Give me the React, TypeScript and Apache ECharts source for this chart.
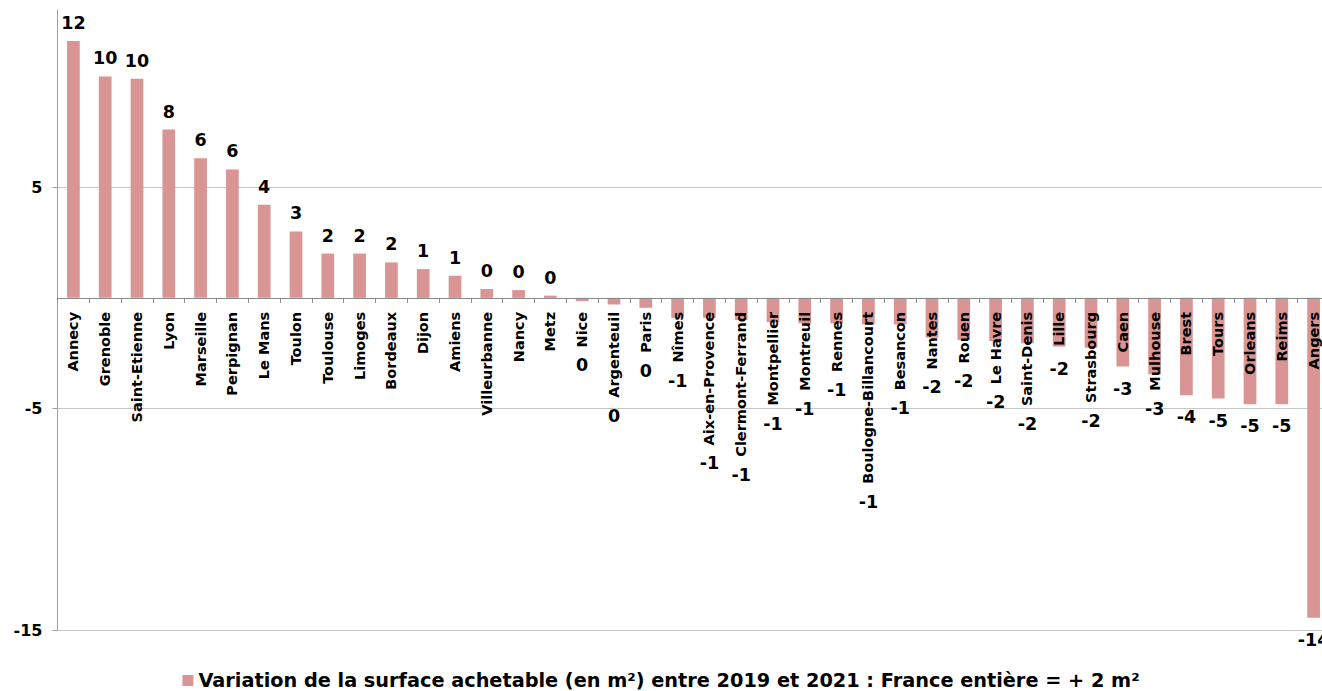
import { useEffect, useRef } from "react";
import * as echarts from "echarts";

// Cities, ordered from the largest gain to the largest loss
const cities = [
  "Annecy", "Grenoble", "Saint-Etienne", "Lyon", "Marseille", "Perpignan", "Le Mans", "Toulon",
  "Toulouse", "Limoges", "Bordeaux", "Dijon", "Amiens", "Villeurbanne", "Nancy", "Metz",
  "Nice", "Argenteuil", "Paris", "Nîmes", "Aix-en-Provence", "Clermont-Ferrand", "Montpellier",
  "Montreuil", "Rennes", "Boulogne-Billancourt", "Besancon", "Nantes", "Rouen", "Le Havre",
  "Saint-Denis", "Lille", "Strasbourg", "Caen", "Mulhouse", "Brest", "Tours", "Orleans",
  "Reims", "Angers",
];

// Change in purchasable floor area, m² (2019 → 2021)
const variations = [
  11.6, 10.0, 9.9, 7.6, 6.3, 5.8, 4.2, 3.0,
  2.0, 2.0, 1.6, 1.3, 1.0, 0.4, 0.35, 0.1,
  -0.15, -0.3, -0.45, -0.9, -0.9, -1.0, -1.1,
  -1.15, -1.15, -1.2, -1.2, -1.8, -1.9, -1.95,
  -2.05, -2.2, -2.25, -3.1, -3.45, -4.4, -4.55, -4.8,
  -4.8, -14.45,
];

const seriesName =
  "Variation de la surface achetable (en m²) entre 2019 et 2021 : France entière = + 2 m²";

const Y_MIN = -15;
const Y_MAX = 13;
const Y_STEP = 10;

const FONT = '"DejaVu Sans", Verdana, sans-serif';
const BAR_COLOR = "#D99594";
const CAT_FONT_SIZE = 14.5;
const CAT_MARGIN = 14;
const VALUE_FONT_SIZE = 17.5;

function textWidth(text: string, size: number): number {
  const ctx = document.createElement("canvas").getContext("2d");
  if (!ctx) return text.length * size * 0.6;
  ctx.font = `bold ${size}px "DejaVu Sans"`;
  return ctx.measureText(text).width;
}

const fmt = (v: number) => `${Math.round(v)}`;

export default function App() {
  const ref = useRef<HTMLDivElement>(null);

  useEffect(() => {
    if (!ref.current) return;
    const chart = echarts.init(ref.current, null, { renderer: "svg" });

    chart.setOption({
      animation: false,
      backgroundColor: "#ffffff",
      grid: { left: 57.5, right: -7.5, top: 10, bottom: 61, outerBoundsMode: "none" },
      legend: {
        data: [seriesName],
        top: 671,
        left: "center",
        padding: 0,
        icon: "rect",
        itemWidth: 11,
        itemHeight: 11,
        selectedMode: false,
        textStyle: { fontFamily: FONT, fontWeight: "bold", fontSize: 19.3, color: "#000" },
      },
      xAxis: {
        type: "category",
        data: cities,
        position: "bottom",
        z: 5,
        axisLine: { onZero: false, lineStyle: { color: "#8a8a8a", width: 1 } },
        axisTick: { show: true, length: 5, lineStyle: { color: "#8a8a8a" } },
        axisLabel: {
          interval: 0,
          rotate: 90,
          margin: CAT_MARGIN,
          fontFamily: FONT,
          fontWeight: "bold",
          fontSize: CAT_FONT_SIZE,
          color: "#000",
        },
        splitLine: { show: false },
      },
      yAxis: {
        type: "value",
        min: Y_MIN,
        max: Y_MAX,
        interval: Y_STEP,
        axisLine: { show: true, lineStyle: { color: "#a0a0a0", width: 1 } },
        axisTick: { show: true, length: 5, lineStyle: { color: "#a0a0a0" } },
        axisLabel: {
          margin: 15,
          showMaxLabel: false,
          fontFamily: FONT,
          fontWeight: "bold",
          fontSize: 16,
          color: "#000",
        },
        splitLine: { show: true, showMaxLine: false, lineStyle: { color: "#c6c6c6", width: 1 } },
      },
      series: [
        {
          name: seriesName,
          type: "bar",
          barWidth: "40%",
          itemStyle: { color: BAR_COLOR },
          data: variations,
          label: {
            show: true,
            position: "top",
            distance: 9,
            formatter: (p: any) => fmt(p.value),
            fontFamily: FONT,
            fontWeight: "bold",
            fontSize: VALUE_FONT_SIZE,
            color: "#000",
          },
        },
      ],
    });

    // Lift the category axis (line, ticks and names) from the bottom edge up to the zero line
    const zeroY = chart.convertToPixel({ yAxisIndex: 0 }, 0) as number;
    const bottomY = chart.convertToPixel({ yAxisIndex: 0 }, Y_MIN) as number;

    // Negative values: put the label past whichever ends lower, the bar or its category name
    const data = variations.map((v, i) => {
      if (v >= 0) return { value: v };
      const endY = chart.convertToPixel({ yAxisIndex: 0 }, v) as number;
      const nameEnd = zeroY + CAT_MARGIN + textWidth(cities[i], CAT_FONT_SIZE);
      return {
        value: v,
        label: { position: "bottom", distance: Math.max(nameEnd - endY + 9, 13) },
      };
    });

    chart.setOption({
      xAxis: { offset: zeroY - bottomY },
      series: [{ data }],
    });

    return () => chart.dispose();
  }, []);

  return (
    <div
      ref={ref}
      style={{ position: "fixed", left: 0, top: 0, width: 1322, height: 691 }}
    />
  );
}
